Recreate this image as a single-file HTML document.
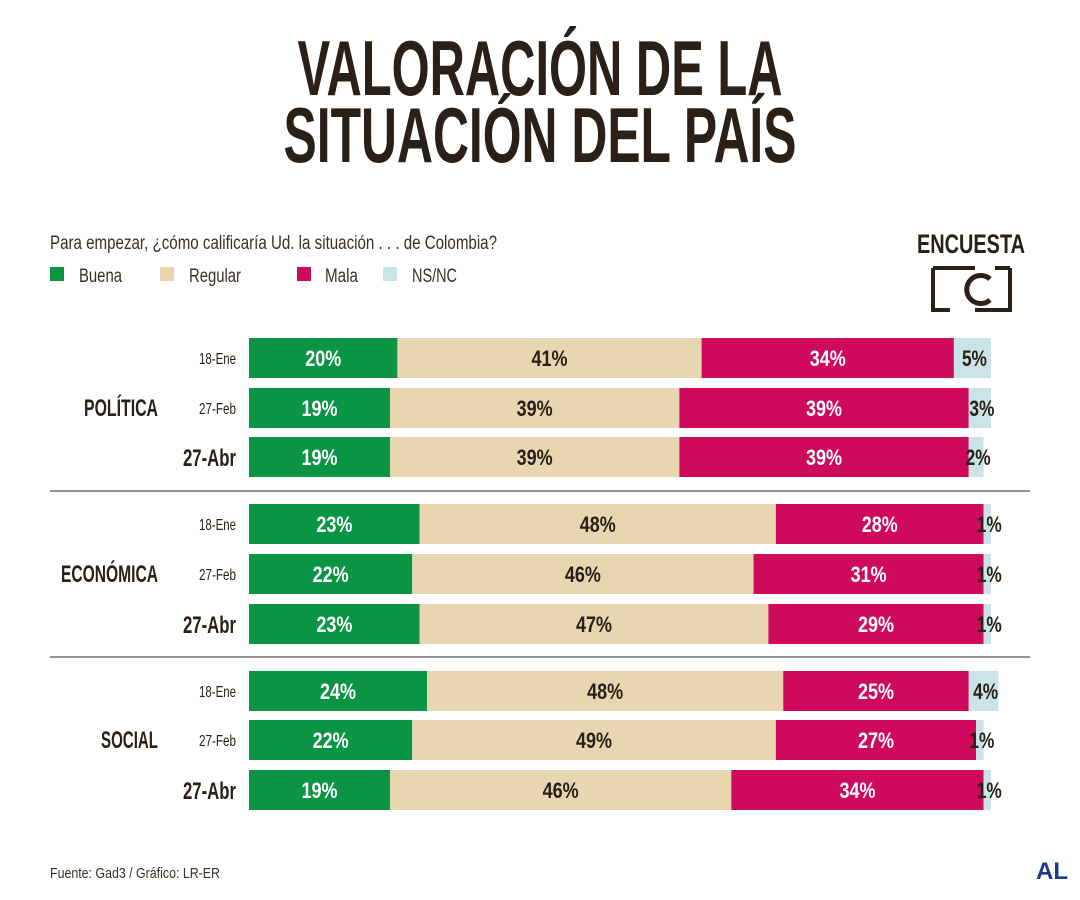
<!DOCTYPE html>
<html><head><meta charset="utf-8"><style>
body{margin:0;background:#fff;}
svg{display:block;font-family:"Liberation Sans",sans-serif;}
</style></head><body>
<svg id="chart" width="1080" height="900" viewBox="0 0 1080 900">
<text x="540" y="95" text-anchor="middle" font-size="78" font-weight="bold" fill="#2a2018" textLength="485" lengthAdjust="spacingAndGlyphs">VALORACIÓN DE LA</text>
<text x="540" y="162" text-anchor="middle" font-size="78" font-weight="bold" fill="#2a2018" textLength="513" lengthAdjust="spacingAndGlyphs">SITUACIÓN DEL PAÍS</text>
<text x="50" y="249" font-size="19" fill="#3a3028" textLength="447" lengthAdjust="spacingAndGlyphs">Para empezar, ¿cómo calificaría Ud. la situación . . . de Colombia?</text>
<g>
<rect x="50" y="267" width="14" height="14" fill="#0b9444"/>
<text x="79" y="282" font-size="19" fill="#3a3028" textLength="43" lengthAdjust="spacingAndGlyphs">Buena</text>
<rect x="160" y="267" width="14" height="14" fill="#e8d6b0"/>
<text x="189" y="282" font-size="19" fill="#3a3028" textLength="52" lengthAdjust="spacingAndGlyphs">Regular</text>
<rect x="297" y="267" width="14" height="14" fill="#cf0a5c"/>
<text x="325" y="282" font-size="19" fill="#3a3028" textLength="33" lengthAdjust="spacingAndGlyphs">Mala</text>
<rect x="383" y="267" width="14" height="14" fill="#c9e3e6"/>
<text x="412" y="282" font-size="19" fill="#3a3028" textLength="45" lengthAdjust="spacingAndGlyphs">NS/NC</text>
</g>
<g>
<text x="971" y="253" text-anchor="middle" font-size="27" font-weight="bold" fill="#2a2018" textLength="108" lengthAdjust="spacingAndGlyphs">ENCUESTA</text>
<path d="M933 268 H975 M933 268 V310 H950 M1010 268 V310 H975 M995 268 H1010" stroke="#2a2018" stroke-width="4" fill="none"/>
<path d="M990 279 A14 14 0 1 0 990 300" stroke="#2a2018" stroke-width="5" fill="none"/>
</g>
<line x1="50" y1="491" x2="1030" y2="491" stroke="#555" stroke-width="1.2"/>
<line x1="50" y1="657" x2="1030" y2="657" stroke="#555" stroke-width="1.2"/>
<g id="bars"></g>
<text x="50" y="878" font-size="15" fill="#3a3028" textLength="170" lengthAdjust="spacingAndGlyphs">Fuente: Gad3 / Gráfico: LR-ER</text>
<text x="1068" y="879" text-anchor="end" font-size="24" font-weight="bold" fill="#1a3b8c">AL</text>
</svg>
<script>
const groups = ["POLÍTICA","ECONÓMICA","SOCIAL"];
const dates = ["18-Ene","27-Feb","27-Abr"];
const buena = [20,19,19, 23,22,23, 24,22,19];
const regular = [41,39,39, 48,46,47, 48,49,46];
const mala = [34,39,39, 28,31,29, 25,27,34];
const nsnc = [5,3,2, 1,1,1, 4,1,1];
const series=[buena,regular,mala,nsnc];
const names=["buena","regular","mala","nsnc"];
const colors=["#0b9444","#e8d6b0","#cf0a5c","#c9e3e6"];
const txt=["#fff","#2a2018","#fff","#2a2018"];
const x0=249, pxPer=7.42;
function xs(v){return x0+v*pxPer;}
const rowY=[338,388,437,504,554,604,671,720,770];
const NS="http://www.w3.org/2000/svg";
const g=document.getElementById('bars');
function mk(tag,attrs,text){const e=document.createElementNS(NS,tag);for(const k in attrs)e.setAttribute(k,attrs[k]);if(text!==undefined)e.textContent=text;g.appendChild(e);return e;}
for(let i=0;i<9;i++){
  const y=rowY[i];let cum=0;
  const last=(i%3===2);
  const d=mk('text',{x:236,y:y+(last?29:26),'text-anchor':'end','font-size':last?24:16,'font-weight':last?'bold':'normal',fill:'#2a2018',textLength:last?53:37,lengthAdjust:'spacingAndGlyphs'},dates[i%3]);
  
  
  for(let s=0;s<4;s++){
    const v=series[s][i];
    const r=mk('rect',{x:xs(cum),y:y,width:v*pxPer,height:40,fill:colors[s]});
    
    
    const cx=s===3?xs(cum)+v*pxPer/2+2:xs(cum)+v*pxPer/2;
    const t=mk('text',{x:cx,y:y+28,'text-anchor':'middle','font-size':22,'font-weight':'bold',fill:txt[s],textLength:v>=10?36:25,lengthAdjust:'spacingAndGlyphs'},v+'%');
    
    
    cum+=v;
  }
}
const gw=[74,97,57];
for(let k=0;k<3;k++){
  const t=mk('text',{x:158,y:rowY[k*3+1]+28,'text-anchor':'end','font-size':24,'font-weight':'bold',fill:'#2a2018',textLength:gw[k],lengthAdjust:'spacingAndGlyphs'},groups[k]);
  
  
}
</script>
</body></html>
